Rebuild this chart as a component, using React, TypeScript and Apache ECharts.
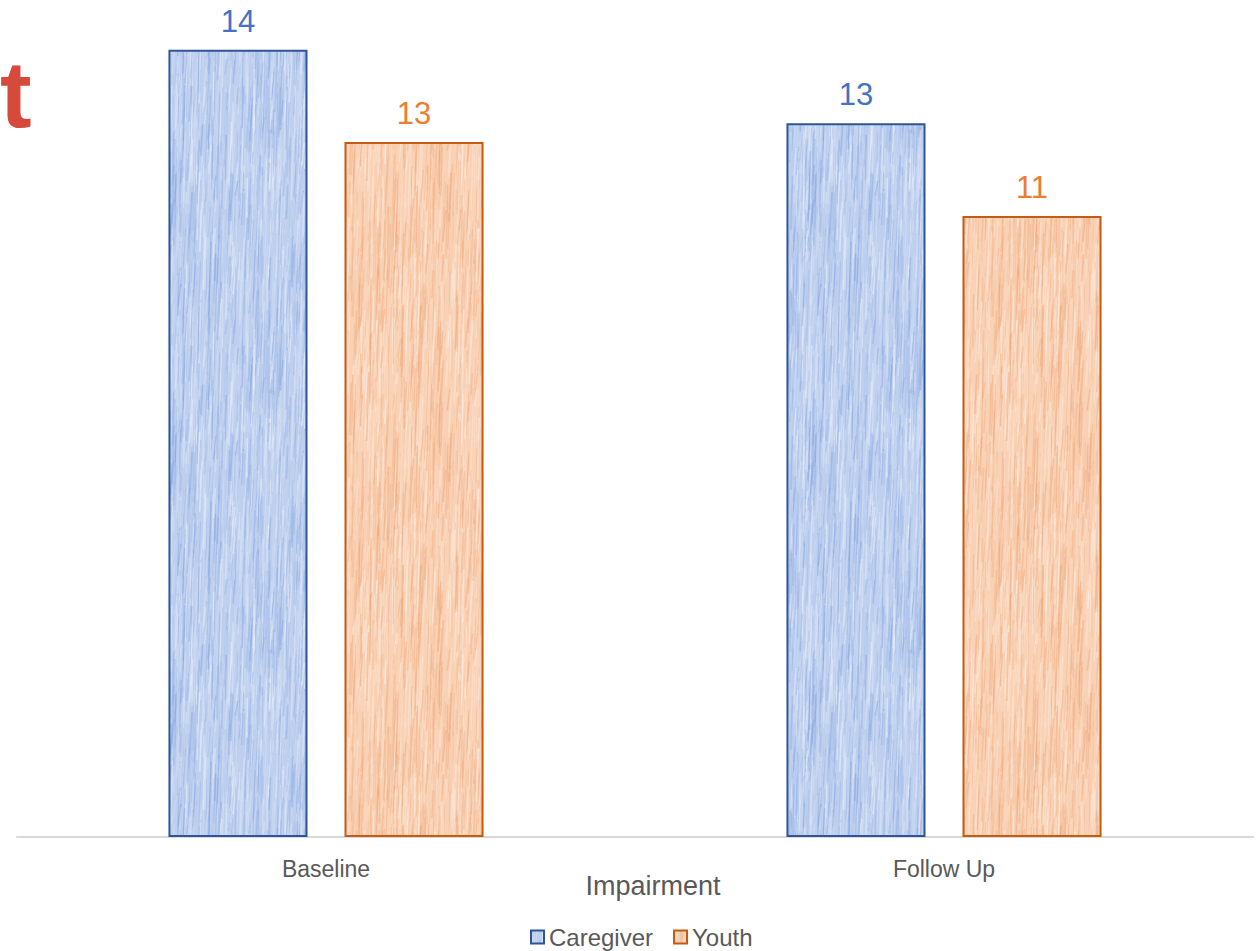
import React, { useEffect, useRef } from "react";
import * as echarts from "echarts";

// Impairment scores by reporter
const categories = ["Baseline", "Follow Up"];
const caregiverValues = [14.26, 12.93];
const youthValues = [12.59, 11.25];
const seriesNames = ["Caregiver", "Youth"];

// Fine streaky fabric-like texture for the bar fills (deterministic LCG so it renders the same every time)
function makeTexture(base: string, streak: string, light: string, seed: number): string {
  const w = 160;
  const h = 260;
  const c = document.createElement("canvas");
  c.width = w;
  c.height = h;
  const ctx = c.getContext("2d")!;
  let s = seed;
  const rnd = () => {
    s = (s * 1664525 + 1013904223) % 4294967296;
    return s / 4294967296;
  };
  ctx.fillStyle = base;
  ctx.fillRect(0, 0, w, h);
  for (let i = 0; i < 900; i++) {
    const x = rnd() * w;
    const y = rnd() * h;
    const len = 15 + rnd() * 60;
    const tilt = 0.5 + rnd() * 2.5;
    ctx.strokeStyle = rnd() < 0.5 ? streak : light;
    ctx.globalAlpha = 0.12 + rnd() * 0.3;
    ctx.lineWidth = 0.5 + rnd() * 1.2;
    for (const dx of [-w, 0, w]) {
      for (const dy of [-h, 0, h]) {
        ctx.beginPath();
        ctx.moveTo(x + dx, y + dy);
        ctx.lineTo(x + dx - tilt, y + dy + len);
        ctx.stroke();
      }
    }
  }
  ctx.globalAlpha = 1;
  return c.toDataURL();
}

export default function App() {
  const ref = useRef<HTMLDivElement>(null);

  useEffect(() => {
    if (!ref.current) return;
    const chart = echarts.init(ref.current, null, { renderer: "svg" });

    const blueTex = makeTexture("#bfd0ef", "#7c9edd", "#f4f7fd", 12345);
    const orangeTex = makeTexture("#f9d1b5", "#ee9e69", "#fff6ef", 67890);

    const font = "'Liberation Sans', Arial, Helvetica, sans-serif";

    chart.setOption({
      animation: false,
      backgroundColor: "#ffffff",
      grid: { left: 17, right: 3, top: 9, bottom: 114, containLabel: false },
      legend: {
        data: seriesNames,
        bottom: 2,
        left: 530,
        icon: "rect",
        itemWidth: 13,
        itemHeight: 13,
        itemGap: 20,
        padding: 0,
        textStyle: { fontFamily: font, fontSize: 24, color: "#595959" },
      },
      xAxis: {
        type: "category",
        data: categories,
        name: "Impairment",
        nameLocation: "middle",
        nameGap: 35,
        nameMoveOverlap: false,
        nameTextStyle: {
          fontFamily: font,
          fontSize: 27,
          color: "#595959",
          padding: [0, 0, 0, 36],
        },
        axisLine: { lineStyle: { color: "#d9d9d9", width: 2 } },
        axisTick: { show: false },
        axisLabel: { fontFamily: font, fontSize: 23, color: "#595959", margin: 20 },
      },
      yAxis: {
        type: "value",
        min: 0,
        max: 15,
        show: false,
        splitLine: { show: false },
      },
      series: [
        {
          name: seriesNames[0],
          type: "bar",
          data: caregiverValues,
          barWidth: "22.5%",
          barGap: "26.6%",
          itemStyle: {
            color: { image: blueTex, repeat: "repeat" },
            borderColor: "#2f5597",
            borderWidth: 2,
          },
          label: {
            show: true,
            position: "top",
            distance: 13,
            fontFamily: font,
            fontSize: 31,
            color: "#4472c4",
            formatter: (p: any) => String(Math.round(p.value)),
          },
        },
        {
          name: seriesNames[1],
          type: "bar",
          data: youthValues,
          barWidth: "22.5%",
          itemStyle: {
            color: { image: orangeTex, repeat: "repeat" },
            borderColor: "#c55a11",
            borderWidth: 2,
          },
          label: {
            show: true,
            position: "top",
            distance: 13,
            fontFamily: font,
            fontSize: 31,
            color: "#ed7d31",
            formatter: (p: any) => String(Math.round(p.value)),
          },
        },
      ],
      graphic: [
        {
          type: "text",
          left: 0,
          top: 46,
          style: {
            text: "t",
            fontFamily: "'Liberation Sans', Arial, sans-serif",
            fontWeight: "bold",
            fontSize: 95,
            fill: "#d64a3b",
          },
        },
      ],
    });

    return () => chart.dispose();
  }, []);

  return (
    <div
      ref={ref}
      style={{ position: "absolute", left: 0, top: 0, width: 1256, height: 951 }}
    />
  );
}
